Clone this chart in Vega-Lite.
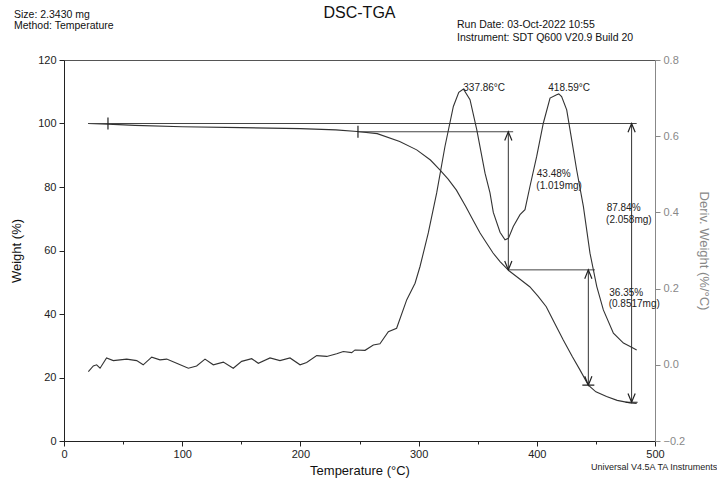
{
  "$schema": "https://vega.github.io/schema/vega-lite/v6.json",
  "width": 591,
  "height": 381,
  "autosize": {"type": "none"},
  "padding": {"left": 64, "top": 60, "right": 62, "bottom": 37},
  "title": {"text": "DSC-TGA", "fontSize": 16, "fontWeight": "normal", "anchor": "middle", "offset": -11, "color": "#111"},
  "config": {
    "font": "Liberation Sans",
    "view": {"stroke": "#555", "strokeWidth": 1},
    "axis": {"grid": false, "labelFontSize": 11, "titleFontSize": 13, "titleFontWeight": "normal", "labelOverlap": false, "labelFlush": false}
  },
  "datasets": {
    "tga": [
      {"T": 20.3, "w": 100.0}, {"T": 37, "w": 99.8}, {"T": 60, "w": 99.4}, {"T": 100, "w": 99.0},
      {"T": 150, "w": 98.7}, {"T": 200, "w": 98.4}, {"T": 230, "w": 98.0}, {"T": 248, "w": 97.5},
      {"T": 265, "w": 96.8}, {"T": 284, "w": 94.3}, {"T": 298.4, "w": 91.7}, {"T": 310, "w": 88.5},
      {"T": 318, "w": 85.4}, {"T": 325, "w": 82.5}, {"T": 332, "w": 79.0}, {"T": 340, "w": 73.8},
      {"T": 346, "w": 69.6}, {"T": 352, "w": 65.5}, {"T": 357.6, "w": 62.3}, {"T": 363, "w": 59.2},
      {"T": 368.9, "w": 56.5}, {"T": 375.9, "w": 53.8}, {"T": 385, "w": 51.2}, {"T": 394, "w": 48.6},
      {"T": 401, "w": 45.6}, {"T": 408, "w": 42.3}, {"T": 415, "w": 37.2}, {"T": 422.4, "w": 31.8},
      {"T": 430, "w": 26.6}, {"T": 436.5, "w": 22.4}, {"T": 443.6, "w": 17.6}, {"T": 450, "w": 15.5},
      {"T": 459, "w": 14.0}, {"T": 468, "w": 12.8}, {"T": 478.8, "w": 12.0}, {"T": 484.5, "w": 11.8}
    ],
    "dtg": [
      {"T": 20.6, "d": -0.018}, {"T": 24.8, "d": -0.003}, {"T": 27.6, "d": 0.0}, {"T": 30.5, "d": -0.009},
      {"T": 36.0, "d": 0.018}, {"T": 41.7, "d": 0.011}, {"T": 47.4, "d": 0.013}, {"T": 53.0, "d": 0.015},
      {"T": 61.5, "d": 0.011}, {"T": 67.0, "d": 0.0}, {"T": 74.2, "d": 0.02}, {"T": 81.2, "d": 0.013},
      {"T": 86.9, "d": 0.015}, {"T": 95.3, "d": 0.004}, {"T": 105.2, "d": -0.009}, {"T": 112.2, "d": -0.003},
      {"T": 119.3, "d": 0.015}, {"T": 126.3, "d": 0.0}, {"T": 134.8, "d": 0.007}, {"T": 143.2, "d": -0.009},
      {"T": 150.3, "d": 0.009}, {"T": 158.8, "d": 0.016}, {"T": 164.4, "d": 0.004}, {"T": 174.3, "d": 0.018},
      {"T": 182.7, "d": 0.011}, {"T": 191.2, "d": 0.018}, {"T": 199.7, "d": 0.0}, {"T": 205.3, "d": 0.006},
      {"T": 213.8, "d": 0.024}, {"T": 222.3, "d": 0.022}, {"T": 230.7, "d": 0.029}, {"T": 236.3, "d": 0.035},
      {"T": 243.4, "d": 0.032}, {"T": 246.2, "d": 0.039}, {"T": 254.7, "d": 0.038}, {"T": 261.7, "d": 0.052},
      {"T": 267.3, "d": 0.055}, {"T": 274.4, "d": 0.087}, {"T": 281.4, "d": 0.096}, {"T": 290.0, "d": 0.171},
      {"T": 297.0, "d": 0.214}, {"T": 301.2, "d": 0.258}, {"T": 308.2, "d": 0.346}, {"T": 315.3, "d": 0.451},
      {"T": 322.3, "d": 0.573}, {"T": 329.4, "d": 0.678}, {"T": 334.0, "d": 0.715}, {"T": 337.9, "d": 0.724},
      {"T": 343.5, "d": 0.696}, {"T": 349.2, "d": 0.617}, {"T": 356.2, "d": 0.503}, {"T": 360.4, "d": 0.451},
      {"T": 363.2, "d": 0.4}, {"T": 368.9, "d": 0.348}, {"T": 373.1, "d": 0.328}, {"T": 376.0, "d": 0.332},
      {"T": 380.1, "d": 0.363}, {"T": 385.8, "d": 0.394}, {"T": 390.0, "d": 0.407}, {"T": 394.2, "d": 0.468},
      {"T": 399.9, "d": 0.547}, {"T": 405.5, "d": 0.634}, {"T": 411.2, "d": 0.7}, {"T": 416.8, "d": 0.709},
      {"T": 418.6, "d": 0.711}, {"T": 421.0, "d": 0.704}, {"T": 425.3, "d": 0.669}, {"T": 429.5, "d": 0.591},
      {"T": 433.7, "d": 0.512}, {"T": 439.4, "d": 0.416}, {"T": 445.0, "d": 0.293}, {"T": 450.7, "d": 0.206},
      {"T": 456.3, "d": 0.144}, {"T": 464.8, "d": 0.083}, {"T": 473.3, "d": 0.057}, {"T": 479.0, "d": 0.048},
      {"T": 484.5, "d": 0.039}
    ],
    "hl": [
      {"xa": 20.3, "xb": 484.5, "w": 100},
      {"xa": 248.7, "xb": 380, "w": 97.4},
      {"xa": 375.9, "xb": 449.2, "w": 53.9}
    ],
    "vl": [
      {"T": 375.9, "w": 97.4, "w2": 53.9},
      {"T": 443.6, "w": 53.9, "w2": 17.6},
      {"T": 480.2, "w": 100, "w2": 12.2}
    ],
    "marks": [
      {"T": 37.2, "w": 100, "kind": "tick"},
      {"T": 248.7, "w": 97.4, "kind": "tick"},
      {"T": 375.9, "w": 97.4, "kind": "up"},
      {"T": 375.9, "w": 53.9, "kind": "down"},
      {"T": 443.6, "w": 53.9, "kind": "up"},
      {"T": 443.6, "w": 17.6, "kind": "downbar"},
      {"T": 480.2, "w": 100, "kind": "up"},
      {"T": 480.2, "w": 12.2, "kind": "downbar"}
    ],
    "ann": [
      {"T": 400.0, "w": 84.1, "label": "43.48%"},
      {"T": 399.6, "w": 80.3, "label": "(1.019mg)"},
      {"T": 459.1, "w": 73.3, "label": "87.84%"},
      {"T": 458.6, "w": 69.6, "label": "(2.058mg)"},
      {"T": 461.3, "w": 46.7, "label": "36.35%"},
      {"T": 460.8, "w": 43.1, "label": "(0.8517mg)"}
    ],
    "peaks": [
      {"T": 337.8, "d": 0.727, "label": "337.86°C"},
      {"T": 409.7, "d": 0.727, "label": "418.59°C"}
    ],
    "headers": [
      {"T": -42.3, "w": 134.3, "label": "Size:  2.3430 mg"},
      {"T": -42.3, "w": 130.8, "label": "Method: Temperature"},
      {"T": 332.5, "w": 131.0, "label": "Run Date: 03-Oct-2022 10:55"},
      {"T": 332.5, "w": 126.8, "label": "Instrument: SDT Q600 V20.9 Build 20"}
    ],
    "footer": [
      {"T": 445.9, "w": -8.2, "label": "Universal V4.5A TA Instruments"}
    ]
  },
  "layer": [
    {
      "layer": [
        {
          "data": {"name": "tga"},
          "mark": {"type": "line", "stroke": "#333", "strokeWidth": 1.1},
          "encoding": {
            "x": {
              "field": "T", "type": "quantitative",
              "scale": {"domain": [0, 500], "nice": false},
              "axis": {
                "title": "Temperature (°C)",
                "values": [0, 25, 50, 75, 100, 125, 150, 175, 200, 225, 250, 275, 300, 325, 350, 375, 400, 425, 450, 475, 500],
                "labelExpr": "datum.value % 100 === 0 ? datum.label : ''",
                "tickSize": {"condition": {"test": "datum.value % 100 === 0", "value": 5}, "value": 3},
                "domainColor": "#222", "tickColor": "#222", "labelColor": "#222", "titleColor": "#111",
                "labelPadding": 2, "titlePadding": 5
              }
            },
            "y": {
              "field": "w", "type": "quantitative",
              "scale": {"domain": [0, 120], "nice": false},
              "axis": {
                "title": "Weight (%)",
                "values": [0, 5, 10, 15, 20, 25, 30, 35, 40, 45, 50, 55, 60, 65, 70, 75, 80, 85, 90, 95, 100, 105, 110, 115, 120],
                "labelExpr": "datum.value % 20 === 0 ? datum.label : ''",
                "tickSize": {"condition": {"test": "datum.value % 20 === 0", "value": 5}, "value": 3},
                "domainColor": "#222", "tickColor": "#222", "labelColor": "#222", "titleColor": "#111",
                "labelPadding": 3, "titlePadding": 14
              }
            }
          }
        },
        {
          "data": {"name": "hl"},
          "mark": {"type": "rule", "stroke": "#444", "strokeWidth": 1},
          "encoding": {
            "x": {"field": "xa", "type": "quantitative"},
            "x2": {"field": "xb"},
            "y": {"field": "w", "type": "quantitative"}
          }
        },
        {
          "data": {"name": "vl"},
          "mark": {"type": "rule", "stroke": "#333", "strokeWidth": 1},
          "encoding": {
            "x": {"field": "T", "type": "quantitative"},
            "y": {"field": "w", "type": "quantitative"},
            "y2": {"field": "w2"}
          }
        },
        {
          "data": {"name": "marks"},
          "mark": {"type": "point", "filled": false, "stroke": "#222", "strokeWidth": 1.2, "size": 64, "opacity": 1},
          "encoding": {
            "x": {"field": "T", "type": "quantitative"},
            "y": {"field": "w", "type": "quantitative"},
            "shape": {
              "field": "kind", "type": "nominal", "legend": null,
              "scale": {
                "domain": ["tick", "up", "down", "downbar"],
                "range": ["M0,-1.5L0,1.5", "M-0.9,2.2L0,0L0.9,2.2", "M-0.9,-2.2L0,0L0.9,-2.2", "M-0.9,-2.2L0,0L0.9,-2.2M-1.5,0L1.5,0"]
              }
            }
          }
        },
        {
          "data": {"name": "ann"},
          "mark": {"type": "text", "align": "left", "baseline": "middle", "fontSize": 10, "color": "#222"},
          "encoding": {
            "x": {"field": "T", "type": "quantitative"},
            "y": {"field": "w", "type": "quantitative"},
            "text": {"field": "label"}
          }
        },
        {
          "data": {"name": "headers"},
          "mark": {"type": "text", "align": "left", "baseline": "middle", "fontSize": 10.5, "color": "#111"},
          "encoding": {
            "x": {"field": "T", "type": "quantitative"},
            "y": {"field": "w", "type": "quantitative"},
            "text": {"field": "label"}
          }
        },
        {
          "data": {"name": "footer"},
          "mark": {"type": "text", "align": "left", "baseline": "middle", "fontSize": 9, "color": "#222"},
          "encoding": {
            "x": {"field": "T", "type": "quantitative"},
            "y": {"field": "w", "type": "quantitative"},
            "text": {"field": "label"}
          }
        }
      ]
    },
    {
      "layer": [
        {
          "data": {"name": "dtg"},
          "mark": {"type": "line", "stroke": "#333", "strokeWidth": 1.1},
          "encoding": {
            "x": {"field": "T", "type": "quantitative"},
            "y": {
              "field": "d", "type": "quantitative",
              "scale": {"domain": [-0.2, 0.8], "nice": false},
              "axis": {
                "orient": "right",
                "title": "Deriv. Weight (%/°C)",
                "values": [-0.2, -0.15, -0.1, -0.05, 0, 0.05, 0.1, 0.15, 0.2, 0.25, 0.3, 0.35, 0.4, 0.45, 0.5, 0.55, 0.6, 0.65, 0.7, 0.75, 0.8],
                "format": ".1f",
                "labelExpr": "abs(round(datum.value * 5) - datum.value * 5) < 0.000001 ? datum.label : ''",
                "tickSize": {"condition": {"test": "abs(round(datum.value * 5) - datum.value * 5) < 0.000001", "value": 5}, "value": 3},
                "domainColor": "#888", "tickColor": "#888", "labelColor": "#888", "titleColor": "#888",
                "labelPadding": 3, "titlePadding": 12
              }
            }
          }
        },
        {
          "data": {"name": "peaks"},
          "mark": {"type": "text", "align": "left", "baseline": "middle", "fontSize": 10, "color": "#222"},
          "encoding": {
            "x": {"field": "T", "type": "quantitative"},
            "y": {"field": "d", "type": "quantitative"},
            "text": {"field": "label"}
          }
        }
      ]
    }
  ],
  "resolve": {"scale": {"y": "independent"}}
}
